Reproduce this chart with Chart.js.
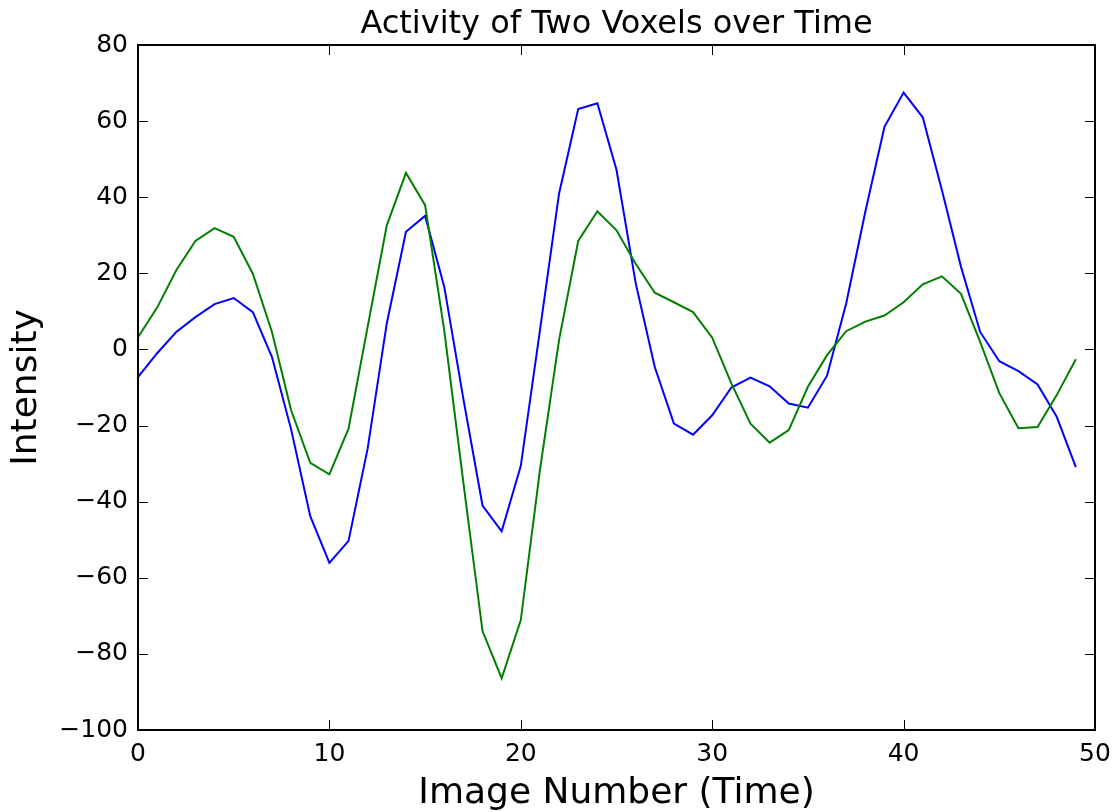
<!DOCTYPE html>
<html>
<head>
<meta charset="utf-8">
<script src="https://cdn.jsdelivr.net/npm/chart.js@4/dist/chart.umd.min.js"></script>
<style>
  html, body { margin: 0; padding: 0; background: #ffffff; }
  #wrap { width: 1113px; height: 812px; position: relative; }
</style>
</head>
<body>
<div id="wrap"><canvas id="c" width="1113" height="812"></canvas></div>
<script>
// ---- data ----
const imageNumbers = [0,1,2,3,4,5,6,7,8,9,10,11,12,13,14,15,16,17,18,19,20,21,22,23,24,25,26,27,28,29,30,31,32,33,34,35,36,37,38,39,40,41,42,43,44,45,46,47,48,49];
const voxelBlue = [-7.3,-1,4.6,8.5,11.9,13.5,9.8,-2,-21,-43.8,
                   -56.1,-50.3,-26,6.9,30.9,35.1,16.5,-13,-41,-47.8,
                   -30.6,5,41,63.2,64.7,47.2,17.5,-4.6,-19.5,-22.4,
                   -17.3,-10,-7.4,-9.7,-14.2,-15.3,-6.9,12.1,36.2,58.5,
                   67.5,61,41.9,21.7,4.6,-3.1,-5.7,-9.2,-17.7,-30.9];
const voxelGreen = [3.2,11,20.8,28.5,31.9,29.6,19.9,4.6,-16,-29.8,
                    -32.8,-20.8,6,32.6,46.4,37.9,5,-35,-74,-86.4,
                    -71.1,-31.7,2.5,28.5,36.3,31.3,22.5,14.9,12.4,9.8,
                    3.1,-8.9,-19.5,-24.5,-21.2,-9.8,-1.5,4.8,7.3,8.9,
                    12.4,17.1,19.2,14.6,2,-11.5,-20.7,-20.4,-12,-2.6];
const xTickValues = [0,10,20,30,40,50];
const yTickValues = [-100,-80,-60,-40,-20,0,20,40,60,80];
const titleText = 'Activity of Two Voxels over Time';
const xTitle = 'Image Number (Time)';
const yTitle = 'Intensity';

const FONT = "'DejaVu Sans', sans-serif";

const toPts = (vals) => imageNumbers.map((x, i) => ({ x: x, y: vals[i] }));

// inward ticks on all four sides + black frame (matplotlib classic look)
const frameTicks = {
  id: 'frameTicks',
  afterDraw(chart) {
    const { ctx, chartArea: a, scales } = chart;
    const len = 10;
    ctx.save();
    ctx.strokeStyle = '#000';
    ctx.lineWidth = 1;
    ctx.beginPath();
    scales.x.ticks.forEach(t => {
      const px = Math.round(scales.x.getPixelForValue(t.value)) + 0.5;
      ctx.moveTo(px, a.bottom); ctx.lineTo(px, a.bottom - len);
      ctx.moveTo(px, a.top); ctx.lineTo(px, a.top + len);
    });
    scales.y.ticks.forEach(t => {
      const py = Math.round(scales.y.getPixelForValue(t.value)) + 0.5;
      ctx.moveTo(a.left, py); ctx.lineTo(a.left + len, py);
      ctx.moveTo(a.right, py); ctx.lineTo(a.right - len, py);
    });
    ctx.stroke();
    ctx.lineWidth = 2;
    ctx.strokeRect(a.left, a.top, a.right - a.left, a.bottom - a.top);
    ctx.restore();
  }
};

const minus = (v) => String(v).replace('-', '\u2212');

new Chart(document.getElementById('c'), {
  type: 'line',
  data: {
    datasets: [
      { label: 'voxel 2', data: toPts(voxelGreen), borderColor: '#008000', borderWidth: 2, pointRadius: 0, tension: 0, fill: false, order: 0 },
      { label: 'voxel 1', data: toPts(voxelBlue), borderColor: '#0000ff', borderWidth: 2, pointRadius: 0, tension: 0, fill: false, order: 1 }
    ]
  },
  options: {
    responsive: false,
    animation: false,
    events: [],
    layout: { padding: { left: 0, right: 18, top: 0, bottom: 0 } },
    plugins: {
      legend: { display: false },
      tooltip: { enabled: false },
      title: {
        display: true,
        text: titleText,
        fullSize: false,
        color: '#000',
        font: { family: FONT, size: 32, weight: 'normal', lineHeight: 1.2 },
        padding: { top: 5, bottom: 1.6 }
      }
    },
    scales: {
      x: {
        type: 'linear',
        min: 0, max: 50,
        afterBuildTicks: (s) => { s.ticks = xTickValues.map(v => ({ value: v })); },
        afterFit: (s) => { s.height = 82; s.paddingLeft = 0; s.paddingRight = 0; },
        grid: { display: false, drawTicks: false },
        border: { display: false },
        ticks: { color: '#000', font: { family: FONT, size: 25 }, padding: 9, maxRotation: 0, callback: (v) => minus(v) },
        title: { display: true, text: xTitle, color: '#000', font: { family: FONT, size: 36, lineHeight: 1.0 }, padding: { top: 0, bottom: 0 } }
      },
      y: {
        type: 'linear',
        min: -100, max: 80,
        afterBuildTicks: (s) => { s.ticks = yTickValues.map(v => ({ value: v })); },
        afterFit: (s) => { s.width = 138; s.paddingTop = 0; s.paddingBottom = 0; },
        grid: { display: false, drawTicks: false },
        border: { display: false },
        ticks: { color: '#000', font: { family: FONT, size: 25 }, padding: 10, callback: (v) => minus(v) },
        title: { display: true, text: yTitle, color: '#000', font: { family: FONT, size: 36 }, padding: { top: 5, bottom: 0 } }
      }
    }
  },
  plugins: [frameTicks]
});
</script>
</body>
</html>
